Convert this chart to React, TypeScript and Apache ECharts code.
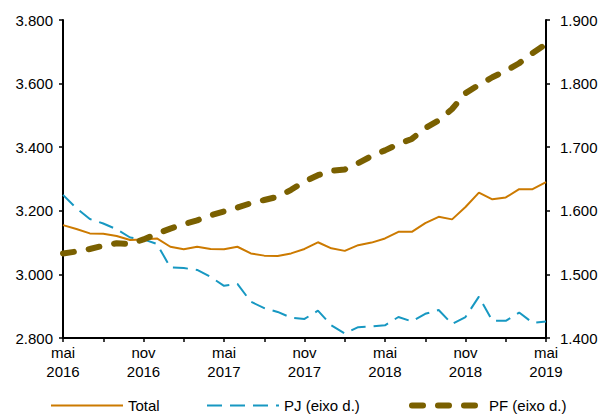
import React, { useEffect, useRef } from "react";
import * as echarts from "echarts";

const months = [
  "mai 2016", "jun 2016", "jul 2016", "ago 2016", "set 2016", "out 2016", "nov 2016", "dez 2016",
  "jan 2017", "fev 2017", "mar 2017", "abr 2017", "mai 2017", "jun 2017", "jul 2017", "ago 2017",
  "set 2017", "out 2017", "nov 2017", "dez 2017", "jan 2018", "fev 2018", "mar 2018", "abr 2018",
  "mai 2018", "jun 2018", "jul 2018", "ago 2018", "set 2018", "out 2018", "nov 2018", "dez 2018",
  "jan 2019", "fev 2019", "mar 2019", "abr 2019", "mai 2019",
];

const total = [
  3155, 3143, 3129, 3128, 3121, 3108, 3110, 3113, 3087, 3079, 3087, 3080, 3079,
  3087, 3066, 3059, 3058, 3066, 3080, 3101, 3082, 3074, 3092, 3100, 3113, 3134,
  3134, 3161, 3181, 3173, 3212, 3257, 3236, 3242, 3268, 3268, 3290,
];

const pj = [
  1625, 1604, 1587, 1580, 1571, 1558, 1555, 1548, 1511, 1510, 1507, 1496, 1482,
  1485, 1457, 1447, 1441, 1432, 1430, 1443, 1420, 1407, 1417, 1418, 1420, 1433,
  1426, 1438, 1444, 1422, 1433, 1465, 1427, 1427, 1440, 1424, 1426,
];

const pf = [
  1533, 1536, 1540, 1545, 1549, 1548, 1555, 1564, 1572, 1579, 1585, 1593, 1599,
  1605, 1612, 1617, 1622, 1633, 1646, 1656, 1663, 1665, 1675, 1686, 1695, 1705,
  1713, 1730, 1742, 1760, 1785, 1798, 1810, 1820, 1832, 1848, 1862,
];

const leftTicks = { min: 2800, max: 3800, interval: 200 };
const rightTicks = { min: 1400, max: 1900, interval: 100 };

const FONT = "'Liberation Sans', Arial, sans-serif";
const C_TOTAL = "#CC7A00";
const C_PJ = "#1798C2";
const C_PF = "#7A6000";

const fmtThousands = (v: number) => {
  const s = String(Math.round(v));
  return s.replace(/\B(?=(\d{3})+(?!\d))/g, ".");
};

export default function App() {
  const ref = useRef<HTMLDivElement>(null);
  useEffect(() => {
    if (!ref.current) return;
    const chart = echarts.init(ref.current, null, { renderer: "svg" });
    const axisLine = { show: true, lineStyle: { color: "#000", width: 2 } };
    const axisTick = { show: true, length: 4, lineStyle: { color: "#000", width: 1.5 } };
    const legendBase = {
      top: 398,
      itemWidth: 72,
      itemHeight: 14,
      itemGap: 0,
      padding: 0,
      textStyle: { fontFamily: FONT, fontSize: 15, color: "#000" },
      lineStyle: { width: "inherit" },
      itemStyle: { opacity: 0 },
      selectedMode: false,
    };
    chart.setOption({
      animation: false,
      backgroundColor: "#fff",
      grid: { left: 63, right: 60, top: 20, bottom: 79, containLabel: false },
      legend: [
        { ...legendBase, left: 50, data: ["Total"] },
        { ...legendBase, left: 206, data: ["PJ (eixo d.)"] },
        { ...legendBase, left: 409, data: ["PF (eixo d.)"] },
      ],
      xAxis: {
        type: "category",
        data: months,
        boundaryGap: false,
        axisLine,
        axisTick: { ...axisTick, interval: 2 },
        axisLabel: {
          interval: 5,
          margin: 5,
          fontFamily: FONT,
          fontSize: 15,
          lineHeight: 19,
          color: "#000",
          formatter: (v: string) => v.replace(" ", "\n"),
        },
        splitLine: { show: false },
      },
      yAxis: [
        {
          type: "value",
          ...leftTicks,
          axisLine,
          axisTick,
          splitLine: { show: false },
          axisLabel: {
            margin: 10,
            fontFamily: FONT,
            fontSize: 15,
            color: "#000",
            formatter: fmtThousands,
          },
        },
        {
          type: "value",
          position: "right",
          ...rightTicks,
          axisLine,
          axisTick,
          splitLine: { show: false },
          axisLabel: {
            margin: 14,
            fontFamily: FONT,
            fontSize: 15,
            color: "#000",
            formatter: fmtThousands,
          },
        },
      ],
      series: [
        {
          name: "Total",
          type: "line",
          yAxisIndex: 0,
          data: total,
          symbol: "none",
          z: 3,
          lineStyle: { color: C_TOTAL, width: 2 },
          itemStyle: { color: C_TOTAL },
        },
        {
          name: "PJ (eixo d.)",
          type: "line",
          yAxisIndex: 1,
          data: pj,
          symbol: "none",
          z: 2,
          lineStyle: { color: C_PJ, width: 2, type: [15, 8] },
          itemStyle: { color: C_PJ },
        },
        {
          name: "PF (eixo d.)",
          type: "line",
          yAxisIndex: 1,
          data: pf,
          symbol: "none",
          z: 4,
          lineStyle: { color: C_PF, width: 6, type: [11, 15], cap: "round" },
          itemStyle: { color: C_PF },
        },
      ],
    });
    return () => chart.dispose();
  }, []);
  return (
    <div
      ref={ref}
      style={{ position: "absolute", left: 0, top: 0, width: 606, height: 417 }}
    />
  );
}
